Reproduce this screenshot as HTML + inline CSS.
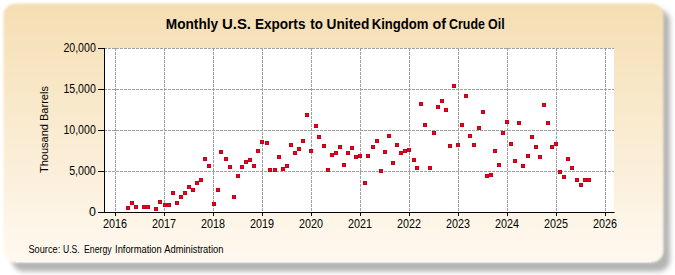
<!DOCTYPE html>
<html><head><meta charset="utf-8">
<style>
html,body{margin:0;padding:0;background:#fff;width:675px;height:275px;overflow:hidden}
svg{display:block;font-family:"Liberation Sans",sans-serif}
</style></head><body>
<svg width="675" height="275" viewBox="0 0 675 275">
<defs>
<linearGradient id="bg" x1="0" y1="0" x2="0" y2="1">
<stop offset="0" stop-color="#F5DEB3"/>
<stop offset="1" stop-color="#FFF9F0"/>
</linearGradient>
<filter id="sh" x="-5%" y="-5%" width="110%" height="115%">
<feGaussianBlur stdDeviation="2.4"/>
</filter>
<filter id="soft" x="-2%" y="-2%" width="104%" height="104%">
<feGaussianBlur stdDeviation="0.9"/>
</filter>
</defs>
<rect x="12" y="9.5" width="658" height="262" rx="12" ry="12" fill="#B4B4B4" filter="url(#sh)"/>
<rect x="3.4" y="3.6" width="660.1" height="258.9" rx="12" ry="12" fill="url(#bg)" filter="url(#soft)"/>
<line x1="16" y1="261.6" x2="651" y2="261.6" stroke="#fff" stroke-width="1.2" opacity="0.8"/>
<rect x="104" y="48" width="510" height="164" fill="#fff"/>
<g stroke="#A0A0A0" stroke-width="1" stroke-dasharray="3 1">
<line x1="115.5" y1="48" x2="115.5" y2="212"/>
<line x1="164.5" y1="48" x2="164.5" y2="212"/>
<line x1="213.5" y1="48" x2="213.5" y2="212"/>
<line x1="262.5" y1="48" x2="262.5" y2="212"/>
<line x1="311.5" y1="48" x2="311.5" y2="212"/>
<line x1="360.5" y1="48" x2="360.5" y2="212"/>
<line x1="409.5" y1="48" x2="409.5" y2="212"/>
<line x1="458.5" y1="48" x2="458.5" y2="212"/>
<line x1="507.5" y1="48" x2="507.5" y2="212"/>
<line x1="556.5" y1="48" x2="556.5" y2="212"/>
<line x1="605.5" y1="48" x2="605.5" y2="212"/>
<line x1="104" y1="48.5" x2="614" y2="48.5"/>
<line x1="104" y1="89.5" x2="614" y2="89.5"/>
<line x1="104" y1="130.5" x2="614" y2="130.5"/>
<line x1="104" y1="171.5" x2="614" y2="171.5"/>
<line x1="104" y1="212.5" x2="614" y2="212.5"/>
</g>
<g stroke="#000" stroke-width="1">
<line x1="104.5" y1="48" x2="104.5" y2="213"/>
<line x1="98" y1="212.5" x2="614.6" y2="212.5"/>
</g>
<g stroke="#000" stroke-width="1">
<line x1="98" y1="48.5" x2="104" y2="48.5"/>
<line x1="98" y1="89.5" x2="104" y2="89.5"/>
<line x1="98" y1="130.5" x2="104" y2="130.5"/>
<line x1="98" y1="171.5" x2="104" y2="171.5"/>
<line x1="98" y1="212.5" x2="104" y2="212.5"/>
<line x1="115.5" y1="213" x2="115.5" y2="216"/>
<line x1="164.5" y1="213" x2="164.5" y2="216"/>
<line x1="213.5" y1="213" x2="213.5" y2="216"/>
<line x1="262.5" y1="213" x2="262.5" y2="216"/>
<line x1="311.5" y1="213" x2="311.5" y2="216"/>
<line x1="360.5" y1="213" x2="360.5" y2="216"/>
<line x1="409.5" y1="213" x2="409.5" y2="216"/>
<line x1="458.5" y1="213" x2="458.5" y2="216"/>
<line x1="507.5" y1="213" x2="507.5" y2="216"/>
<line x1="556.5" y1="213" x2="556.5" y2="216"/>
<line x1="605.5" y1="213" x2="605.5" y2="216"/>
</g>
<g fill="#000" font-size="11">
<text x="95.8" y="52.1" text-anchor="end" font-size="12.4" textLength="32.4" lengthAdjust="spacingAndGlyphs">20,000</text>
<text x="95.8" y="93.1" text-anchor="end" font-size="12.4" textLength="32.4" lengthAdjust="spacingAndGlyphs">15,000</text>
<text x="95.8" y="134.1" text-anchor="end" font-size="12.4" textLength="32.4" lengthAdjust="spacingAndGlyphs">10,000</text>
<text x="95.8" y="175.1" text-anchor="end" font-size="12.4" textLength="26.6" lengthAdjust="spacingAndGlyphs">5,000</text>
<text x="95.8" y="216.1" text-anchor="end" font-size="12.4">0</text>
<text x="115.1" y="227.8" text-anchor="middle" font-size="12.4" textLength="24" lengthAdjust="spacingAndGlyphs">2016</text>
<text x="164.1" y="227.8" text-anchor="middle" font-size="12.4" textLength="24" lengthAdjust="spacingAndGlyphs">2017</text>
<text x="213.1" y="227.8" text-anchor="middle" font-size="12.4" textLength="24" lengthAdjust="spacingAndGlyphs">2018</text>
<text x="262.1" y="227.8" text-anchor="middle" font-size="12.4" textLength="24" lengthAdjust="spacingAndGlyphs">2019</text>
<text x="311.1" y="227.8" text-anchor="middle" font-size="12.4" textLength="24" lengthAdjust="spacingAndGlyphs">2020</text>
<text x="360.1" y="227.8" text-anchor="middle" font-size="12.4" textLength="24" lengthAdjust="spacingAndGlyphs">2021</text>
<text x="409.1" y="227.8" text-anchor="middle" font-size="12.4" textLength="24" lengthAdjust="spacingAndGlyphs">2022</text>
<text x="458.1" y="227.8" text-anchor="middle" font-size="12.4" textLength="24" lengthAdjust="spacingAndGlyphs">2023</text>
<text x="507.1" y="227.8" text-anchor="middle" font-size="12.4" textLength="24" lengthAdjust="spacingAndGlyphs">2024</text>
<text x="556.1" y="227.8" text-anchor="middle" font-size="12.4" textLength="24" lengthAdjust="spacingAndGlyphs">2025</text>
<text x="605.1" y="227.8" text-anchor="middle" font-size="12.4" textLength="24" lengthAdjust="spacingAndGlyphs">2026</text>
</g>
<g fill="#E6061E" stroke="#C4001A" stroke-width="1">
<rect x="126.5" y="206.5" width="3" height="3"/>
<rect x="130.5" y="201.5" width="3" height="3"/>
<rect x="134.5" y="205.5" width="3" height="3"/>
<rect x="142.5" y="205.5" width="3" height="3"/>
<rect x="146.5" y="205.5" width="3" height="3"/>
<rect x="154.5" y="207.5" width="3" height="3"/>
<rect x="158.5" y="200.5" width="3" height="3"/>
<rect x="163.5" y="203.5" width="3" height="3"/>
<rect x="167.5" y="203.5" width="3" height="3"/>
<rect x="171.5" y="191.5" width="3" height="3"/>
<rect x="175.5" y="201.5" width="3" height="3"/>
<rect x="179.5" y="195.5" width="3" height="3"/>
<rect x="183.5" y="191.5" width="3" height="3"/>
<rect x="187.5" y="185.5" width="3" height="3"/>
<rect x="191.5" y="188.5" width="3" height="3"/>
<rect x="195.5" y="181.5" width="3" height="3"/>
<rect x="199.5" y="178.5" width="3" height="3"/>
<rect x="203.5" y="157.5" width="3" height="3"/>
<rect x="207.5" y="164.5" width="3" height="3"/>
<rect x="212.5" y="202.5" width="3" height="3"/>
<rect x="216.5" y="188.5" width="3" height="3"/>
<rect x="219.5" y="150.5" width="3" height="3"/>
<rect x="224.5" y="157.5" width="3" height="3"/>
<rect x="228.5" y="165.5" width="3" height="3"/>
<rect x="232.5" y="195.5" width="3" height="3"/>
<rect x="236.5" y="174.5" width="3" height="3"/>
<rect x="240.5" y="165.5" width="3" height="3"/>
<rect x="244.5" y="160.5" width="3" height="3"/>
<rect x="248.5" y="158.5" width="3" height="3"/>
<rect x="252.5" y="164.5" width="3" height="3"/>
<rect x="256.5" y="149.5" width="3" height="3"/>
<rect x="260.5" y="140.5" width="3" height="3"/>
<rect x="265.5" y="141.5" width="3" height="3"/>
<rect x="268.5" y="168.5" width="3" height="3"/>
<rect x="273.5" y="168.5" width="3" height="3"/>
<rect x="277.5" y="155.5" width="3" height="3"/>
<rect x="281.5" y="167.5" width="3" height="3"/>
<rect x="285.5" y="164.5" width="3" height="3"/>
<rect x="289.5" y="143.5" width="3" height="3"/>
<rect x="293.5" y="151.5" width="3" height="3"/>
<rect x="297.5" y="147.5" width="3" height="3"/>
<rect x="301.5" y="139.5" width="3" height="3"/>
<rect x="305.5" y="113.5" width="3" height="3"/>
<rect x="309.5" y="149.5" width="3" height="3"/>
<rect x="314.5" y="124.5" width="3" height="3"/>
<rect x="317.5" y="135.5" width="3" height="3"/>
<rect x="322.5" y="144.5" width="3" height="3"/>
<rect x="326.5" y="168.5" width="3" height="3"/>
<rect x="330.5" y="153.5" width="3" height="3"/>
<rect x="334.5" y="151.5" width="3" height="3"/>
<rect x="338.5" y="145.5" width="3" height="3"/>
<rect x="342.5" y="163.5" width="3" height="3"/>
<rect x="346.5" y="151.5" width="3" height="3"/>
<rect x="350.5" y="146.5" width="3" height="3"/>
<rect x="354.5" y="155.5" width="3" height="3"/>
<rect x="358.5" y="154.5" width="3" height="3"/>
<rect x="363.5" y="181.5" width="3" height="3"/>
<rect x="366.5" y="154.5" width="3" height="3"/>
<rect x="371.5" y="145.5" width="3" height="3"/>
<rect x="375.5" y="139.5" width="3" height="3"/>
<rect x="379.5" y="169.5" width="3" height="3"/>
<rect x="383.5" y="150.5" width="3" height="3"/>
<rect x="387.5" y="134.5" width="3" height="3"/>
<rect x="391.5" y="161.5" width="3" height="3"/>
<rect x="395.5" y="143.5" width="3" height="3"/>
<rect x="399.5" y="151.5" width="3" height="3"/>
<rect x="403.5" y="149.5" width="3" height="3"/>
<rect x="407.5" y="148.5" width="3" height="3"/>
<rect x="412.5" y="158.5" width="3" height="3"/>
<rect x="415.5" y="166.5" width="3" height="3"/>
<rect x="419.5" y="102.5" width="3" height="3"/>
<rect x="423.5" y="123.5" width="3" height="3"/>
<rect x="428.5" y="166.5" width="3" height="3"/>
<rect x="432.5" y="131.5" width="3" height="3"/>
<rect x="436.5" y="105.5" width="3" height="3"/>
<rect x="440.5" y="99.5" width="3" height="3"/>
<rect x="444.5" y="108.5" width="3" height="3"/>
<rect x="448.5" y="144.5" width="3" height="3"/>
<rect x="452.5" y="84.5" width="3" height="3"/>
<rect x="456.5" y="143.5" width="3" height="3"/>
<rect x="460.5" y="123.5" width="3" height="3"/>
<rect x="464.5" y="94.5" width="3" height="3"/>
<rect x="468.5" y="134.5" width="3" height="3"/>
<rect x="472.5" y="143.5" width="3" height="3"/>
<rect x="477.5" y="126.5" width="3" height="3"/>
<rect x="481.5" y="110.5" width="3" height="3"/>
<rect x="485.5" y="174.5" width="3" height="3"/>
<rect x="489.5" y="173.5" width="3" height="3"/>
<rect x="493.5" y="149.5" width="3" height="3"/>
<rect x="497.5" y="163.5" width="3" height="3"/>
<rect x="501.5" y="131.5" width="3" height="3"/>
<rect x="505.5" y="120.5" width="3" height="3"/>
<rect x="509.5" y="142.5" width="3" height="3"/>
<rect x="513.5" y="159.5" width="3" height="3"/>
<rect x="517.5" y="121.5" width="3" height="3"/>
<rect x="521.5" y="164.5" width="3" height="3"/>
<rect x="526.5" y="154.5" width="3" height="3"/>
<rect x="530.5" y="135.5" width="3" height="3"/>
<rect x="534.5" y="145.5" width="3" height="3"/>
<rect x="538.5" y="155.5" width="3" height="3"/>
<rect x="542.5" y="103.5" width="3" height="3"/>
<rect x="546.5" y="121.5" width="3" height="3"/>
<rect x="550.5" y="145.5" width="3" height="3"/>
<rect x="554.5" y="142.5" width="3" height="3"/>
<rect x="558.5" y="170.5" width="3" height="3"/>
<rect x="562.5" y="175.5" width="3" height="3"/>
<rect x="566.5" y="157.5" width="3" height="3"/>
<rect x="570.5" y="166.5" width="3" height="3"/>
<rect x="575.5" y="178.5" width="3" height="3"/>
<rect x="579.5" y="183.5" width="3" height="3"/>
<rect x="583.5" y="178.5" width="3" height="3"/>
<rect x="587.5" y="178.5" width="3" height="3"/>
</g>
<g fill="#000">
<text x="165.74" y="29" font-size="14.2" font-weight="bold" textLength="52.43" lengthAdjust="spacingAndGlyphs">Monthly</text>
<text x="221.95" y="29" font-size="14.2" font-weight="bold" textLength="29.08" lengthAdjust="spacingAndGlyphs">U.S.</text>
<text x="254.94" y="29" font-size="14.2" font-weight="bold" textLength="50.49" lengthAdjust="spacingAndGlyphs">Exports</text>
<text x="310.30" y="29" font-size="14.2" font-weight="bold" textLength="12.68" lengthAdjust="spacingAndGlyphs">to</text>
<text x="326.53" y="29" font-size="14.2" font-weight="bold" textLength="42.77" lengthAdjust="spacingAndGlyphs">United</text>
<text x="371.68" y="29" font-size="14.2" font-weight="bold" textLength="56.76" lengthAdjust="spacingAndGlyphs">Kingdom</text>
<text x="432.60" y="29" font-size="14.2" font-weight="bold" textLength="13.50" lengthAdjust="spacingAndGlyphs">of</text>
<text x="449.02" y="29" font-size="14.2" font-weight="bold" textLength="35.88" lengthAdjust="spacingAndGlyphs">Crude</text>
<text x="488.12" y="29" font-size="14.2" font-weight="bold" textLength="16.58" lengthAdjust="spacingAndGlyphs">Oil</text>
</g>
<text transform="translate(47.6,129.6) rotate(-90)" text-anchor="middle" font-size="11.5" textLength="87" lengthAdjust="spacingAndGlyphs" fill="#000">Thousand Barrels</text>
<g fill="#000">
<text x="28.48" y="253" font-size="10" font-weight="normal" textLength="31.75" lengthAdjust="spacingAndGlyphs">Source:</text>
<text x="62.94" y="253" font-size="10" font-weight="normal" textLength="16.75" lengthAdjust="spacingAndGlyphs">U.S.</text>
<text x="84.03" y="253" font-size="10" font-weight="normal" textLength="27.70" lengthAdjust="spacingAndGlyphs">Energy</text>
<text x="115.07" y="253" font-size="10" font-weight="normal" textLength="46.66" lengthAdjust="spacingAndGlyphs">Information</text>
<text x="164.30" y="253" font-size="10" font-weight="normal" textLength="59.03" lengthAdjust="spacingAndGlyphs">Administration</text>
</g>
</svg>
</body></html>
